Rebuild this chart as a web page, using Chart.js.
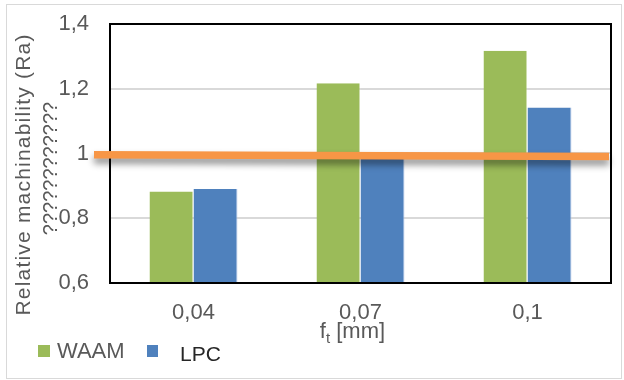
<!DOCTYPE html>
<html>
<head>
<meta charset="utf-8">
<style>
  html, body { margin: 0; padding: 0; background: #ffffff; }
  #wrap { width: 624px; height: 380px; }
</style>
<script src="https://cdn.jsdelivr.net/npm/chart.js@4/dist/chart.umd.min.js"></script>
</head>
<body>
<div id="wrap"><canvas id="chart" width="624" height="380"></canvas></div>
<script>
// Feed per tooth categories and relative machinability (Ra) per material
const categories = ['0,04', '0,07', '0,1'];
const waamValues = [0.883, 1.217, 1.317];
const lpcValues = [0.890, 0.990, 1.142];
// Reference level (slightly tilted as drawn from start to end)
const referenceLine = [0.996, 0.991];
const yTicks = [0.6, 0.8, 1.0, 1.2, 1.4];
const yTitleLines = ['Relative machinability (Ra)', '????????????'];
const xTitle = { base: 'f', sub: 't', rest: ' [mm]' };

const FONT = '"Liberation Sans", Arial, sans-serif';
const GREEN = '#9BBB59';
const BLUE = '#4F81BD';
const ORANGE = '#F79646';
const TEXT = '#595959';

const fmt = v => Number(v.toFixed(1)).toLocaleString('de-DE');

const decorPlugin = {
  id: 'decor',
  beforeDraw(chart) {
    const ctx = chart.ctx;
    ctx.save();
    ctx.strokeStyle = '#d9d9d9';
    ctx.lineWidth = 1;
    ctx.strokeRect(6.5, 4.5, 615, 374);
    ctx.restore();
  },
  afterDatasetsDraw(chart) {
    const { ctx, chartArea: a, scales } = chart;
    // plot frame
    ctx.save();
    ctx.strokeStyle = '#000000';
    ctx.lineWidth = 2;
    ctx.strokeRect(a.left, a.top, a.right - a.left, a.bottom - a.top);
    ctx.restore();

    // reference line with soft shadow
    const y0 = scales.y.getPixelForValue(referenceLine[0]);
    const y1 = scales.y.getPixelForValue(referenceLine[1]);
    ctx.save();
    ctx.shadowColor = 'rgba(0,0,0,0.45)';
    ctx.shadowBlur = 7;
    ctx.shadowOffsetY = 5;
    ctx.strokeStyle = ORANGE;
    ctx.lineWidth = 7.5;
    ctx.lineCap = 'butt';
    ctx.beginPath();
    ctx.moveTo(a.left - 16, y0);
    ctx.lineTo(a.right - 2, y1);
    ctx.stroke();
    ctx.restore();
  },
  afterDraw(chart) {
    const { ctx, chartArea: a } = chart;
    ctx.save();
    // y axis title, two rotated lines
    ctx.fillStyle = TEXT;
    ctx.font = '21px ' + FONT;
    ctx.textAlign = 'center';
    ctx.textBaseline = 'middle';
    const cy = (a.top + a.bottom) / 2 + 21;
    ctx.save();
    ctx.translate(24, cy);
    ctx.rotate(-Math.PI / 2);
    ctx.letterSpacing = '1.2px';
    ctx.fillText(yTitleLines[0], 0, 0);
    ctx.restore();
    ctx.save();
    ctx.translate(51, cy - 6);
    ctx.rotate(-Math.PI / 2);
    ctx.letterSpacing = '0px';
    ctx.font = '20px ' + FONT;
    ctx.fillText(yTitleLines[1], 0, 0);
    ctx.restore();

    // x axis title with subscript
    ctx.textAlign = 'left';
    ctx.textBaseline = 'alphabetic';
    ctx.font = '22px ' + FONT;
    const wBase = ctx.measureText(xTitle.base).width;
    const wRest = ctx.measureText(xTitle.rest).width;
    ctx.font = '15px ' + FONT;
    const wSub = ctx.measureText(xTitle.sub).width;
    const total = wBase + wSub + wRest;
    const cx = (a.left + a.right) / 2 - 8;
    let x = cx - total / 2;
    const base = 338;
    ctx.font = '22px ' + FONT;
    ctx.fillText(xTitle.base, x, base);
    x += wBase;
    ctx.font = '15px ' + FONT;
    ctx.fillText(xTitle.sub, x, base + 5);
    x += wSub;
    ctx.font = '22px ' + FONT;
    ctx.fillText(xTitle.rest, x, base);

    // legend
    const ds = chart.data.datasets;
    ctx.fillStyle = ds[0].backgroundColor;
    ctx.fillRect(38, 345, 12, 12);
    ctx.fillStyle = TEXT;
    ctx.font = '22px ' + FONT;
    ctx.fillText(ds[0].label, 57, 358);
    ctx.fillStyle = ds[1].backgroundColor;
    ctx.fillRect(147, 345, 11, 12);
    ctx.fillStyle = '#262626';
    ctx.font = '21px ' + FONT;
    ctx.fillText(ds[1].label, 180, 361);
    ctx.restore();
  }
};

new Chart(document.getElementById('chart'), {
  type: 'bar',
  data: {
    labels: categories,
    datasets: [
      { label: 'WAAM', data: waamValues, backgroundColor: GREEN,
        borderColor: 'rgba(255,255,255,0.35)', borderWidth: { right: 1 } },
      { label: 'LPC', data: lpcValues, backgroundColor: BLUE,
        borderColor: 'rgba(180,200,235,0.9)', borderWidth: { right: 1 } }
    ]
  },
  options: {
    responsive: false,
    animation: false,
    layout: { padding: { top: 24, right: 13, left: 0, bottom: 0 } },
    datasets: { bar: { categoryPercentage: 0.527, barPercentage: 1.0 } },
    plugins: {
      legend: { display: false },
      tooltip: { enabled: false }
    },
    scales: {
      x: {
        grid: { display: false, drawTicks: false },
        border: { display: false },
        ticks: { color: TEXT, font: { family: FONT, size: 22 }, padding: 17 },
        afterFit(s) { s.height = 97; s.paddingLeft = 0; s.paddingRight = 0; }
      },
      y: {
        min: 0.6,
        max: 1.4,
        afterBuildTicks(s) { s.ticks = yTicks.map(v => ({ value: v })); },
        grid: { color: '#d9d9d9', lineWidth: 2, drawTicks: false },
        border: { display: false },
        ticks: {
          color: TEXT,
          font: { family: FONT, size: 22 },
          padding: 21,
          callback: v => fmt(v)
        },
        afterFit(s) { s.width = 110; s.paddingTop = 0; s.paddingBottom = 0; }
      }
    }
  },
  plugins: [decorPlugin]
});
</script>
</body>
</html>
